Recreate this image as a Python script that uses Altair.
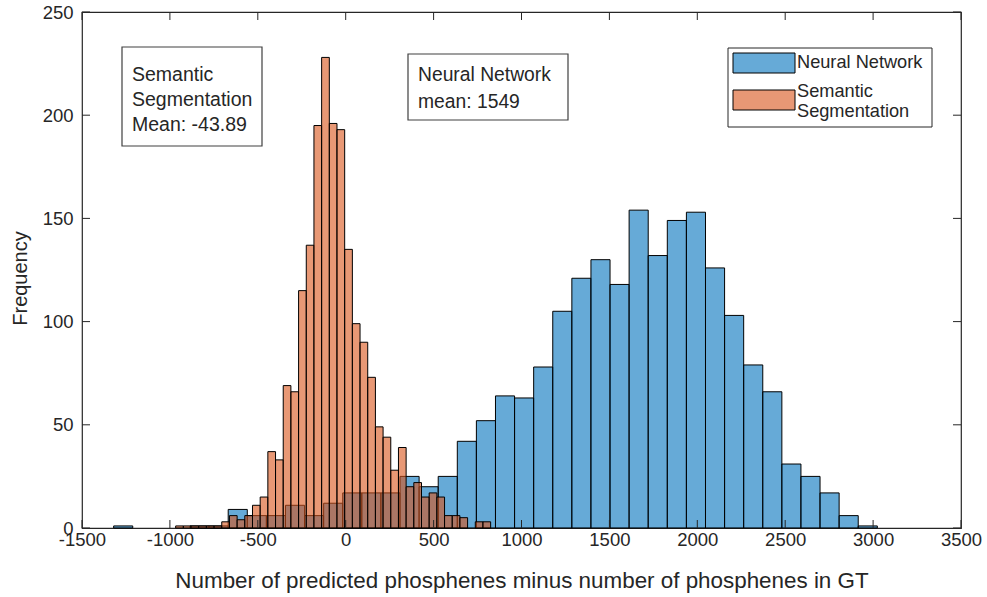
import altair as alt
import pandas as pd

# ---- data ----
# Neural Network histogram (bin start, bin width, counts)
NN_START = -1320.0
NN_WIDTH = 108.6
nn_counts = [1, 0, 0, 0, 1, 1, 9, 6, 6, 11, 6, 12, 17, 17, 17, 25, 20, 25,
             42, 52, 64, 63, 78, 105, 121, 130, 118, 154, 132, 149, 153, 126,
             103, 79, 66, 31, 25, 17, 6, 1]

# Semantic Segmentation histogram
SS_START = -967.2
SS_WIDTH = 43.7
ss_counts = [1, 1, 1, 1, 1, 1,
             3, 6, 4, 6, 11, 15, 37, 33, 69, 66,
             115, 137, 195, 228, 196, 193, 135, 99, 90, 73,
             49, 44, 28, 39, 20, 22, 15, 17, 15, 6,
             6, 5, 0, 3, 3]

x_ticks = [-1500, -1000, -500, 0, 500, 1000, 1500, 2000, 2500, 3000, 3500]
y_ticks = [0, 50, 100, 150, 200, 250]

series_names = ["Neural Network", "Semantic Segmentation"]
BLUE = "#0072BD"
ORANGE = "#D95319"
AX = "#262626"
FONT = "Liberation Sans"

W, H = 879, 516


def hist_frame(start, width, counts, name):
    rows = []
    for i, c in enumerate(counts):
        if c <= 0:
            continue
        rows.append({"x0": start + i * width, "x1": start + (i + 1) * width,
                     "count": c, "series": name})
    return pd.DataFrame(rows)


nn_df = hist_frame(NN_START, NN_WIDTH, nn_counts, series_names[0])
ss_df = hist_frame(SS_START, SS_WIDTH, ss_counts, series_names[1])

xs = alt.Scale(domain=[-1500, 3500], nice=False, zero=False)
ys = alt.Scale(domain=[0, 250], nice=False)

x_axis = alt.Axis(values=x_ticks, tickSize=0, domain=False, grid=False,
                  labelExpr="'' + datum.value",
                  labelFont=FONT, labelFontSize=18.5, labelColor=AX,
                  labelPadding=2, labelFlush=False,
                  title="Number of predicted phosphenes minus number of phosphenes in GT",
                  titleFont=FONT, titleFontSize=22.4, titleFontWeight="normal",
                  titleColor=AX, titleBaseline="middle", titleY=52)
y_axis = alt.Axis(values=y_ticks, tickSize=0, domain=False, grid=False,
                  labelExpr="'' + datum.value",
                  labelFont=FONT, labelFontSize=18.5, labelColor=AX,
                  labelPadding=9, labelFlush=False,
                  title="Frequency", titleFont=FONT, titleFontSize=20,
                  titleFontWeight="normal", titleColor=AX,
                  titleBaseline="middle", titleX=-62, titleY=266)

nn_bars = alt.Chart(nn_df).mark_bar(
    fill=BLUE, fillOpacity=0.6, stroke="black", strokeWidth=1
).encode(
    x=alt.X("x0:Q", scale=xs, axis=x_axis),
    x2="x1:Q",
    y=alt.Y("count:Q", scale=ys, axis=y_axis),
    y2=alt.datum(0),
)

ss_bars = alt.Chart(ss_df).mark_bar(
    fill=ORANGE, fillOpacity=0.6, stroke="black", strokeWidth=1
).encode(
    x=alt.X("x0:Q", scale=xs),
    x2="x1:Q",
    y=alt.Y("count:Q", scale=ys),
    y2=alt.datum(0),
)

TL = 8  # inward tick length
xt = pd.DataFrame({"v": x_ticks})
yt = pd.DataFrame({"v": y_ticks})
tick_style = dict(color=AX, strokeWidth=1)
ticks_bottom = alt.Chart(xt).mark_rule(**tick_style).encode(
    x=alt.X("v:Q", scale=xs), y=alt.value(H), y2=alt.value(H - TL))
ticks_top = alt.Chart(xt).mark_rule(**tick_style).encode(
    x=alt.X("v:Q", scale=xs), y=alt.value(0), y2=alt.value(TL))
ticks_left = alt.Chart(yt).mark_rule(**tick_style).encode(
    y=alt.Y("v:Q", scale=ys), x=alt.value(0), x2=alt.value(TL))
ticks_right = alt.Chart(yt).mark_rule(**tick_style).encode(
    y=alt.Y("v:Q", scale=ys), x=alt.value(W), x2=alt.value(W - TL))

one = pd.DataFrame({"a": [0]})


def box(x1, x2, y1, y2, stroke="#404040", sw=1.2):
    return alt.Chart(one).mark_rect(fill="white", stroke=stroke, strokeWidth=sw).encode(
        x=alt.value(x1), x2=alt.value(x2), y=alt.value(y1), y2=alt.value(y2))


def swatch(x1, x2, y1, y2, color):
    return alt.Chart(one).mark_rect(fill=color, fillOpacity=0.6, stroke="black",
                                    strokeWidth=1).encode(
        x=alt.value(x1), x2=alt.value(x2), y=alt.value(y1), y2=alt.value(y2))


def label(txt, x, y, size):
    return alt.Chart(one).mark_text(text=txt, align="left", baseline="middle",
                                    font=FONT, fontSize=size, color=AX).encode(
        x=alt.value(x), y=alt.value(y))


ann = [
    box(40, 180, 35, 134),
    label("Semantic", 50, 63, 19.5),
    label("Segmentation", 50, 88, 19.5),
    label("Mean: -43.89", 50, 113, 19.5),
    box(326, 486, 42, 108),
    label("Neural Network", 336, 63, 19.3),
    label("mean: 1549", 336, 90, 19.3),
    box(646, 850, 36, 115, stroke="#262626", sw=1),
    swatch(651, 713, 41, 61, BLUE),
    swatch(651, 713, 78, 98, ORANGE),
    label(series_names[0], 715, 51, 18.2),
    label("Semantic", 715, 80, 18.2),
    label("Segmentation", 715, 100, 18.2),
]

chart = alt.layer(
    nn_bars, ss_bars, ticks_bottom, ticks_top, ticks_left, ticks_right, *ann
).properties(
    width=W, height=H,
    autosize=alt.AutoSizeParams(type="none"),
    padding={"left": 82, "top": 12, "right": 26, "bottom": 69},
    background="white",
).configure_view(stroke=AX, strokeWidth=1.2)

chart.save("out.html", embed_options={"renderer": "svg", "actions": False})
